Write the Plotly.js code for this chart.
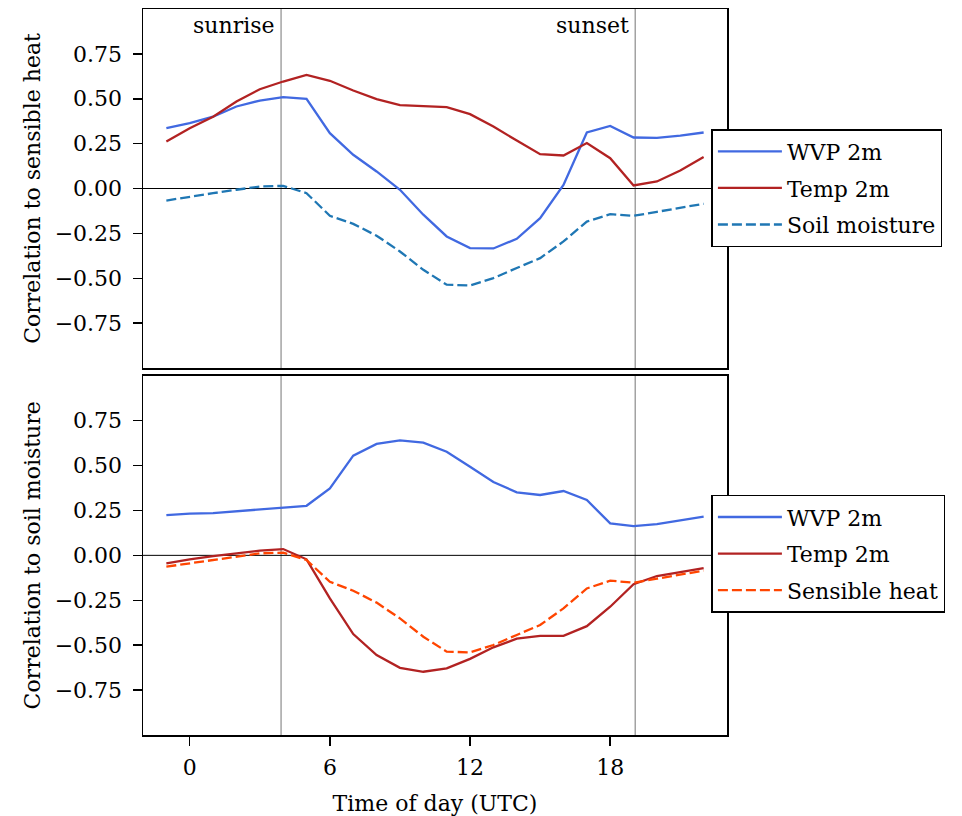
<!DOCTYPE html>
<html>
<head>
<meta charset="utf-8">
<script src="https://cdn.plot.ly/plotly-3.0.1.min.js"></script>
<style>html,body{margin:0;padding:0;background:#fff;}</style>
</head>
<body>
<div id="chart" style="width:962px;height:816px;"></div>
<script>
// ---- data ----
const hours = [-1,0,1,2,3,4,5,6,7,8,9,10,11,12,13,14,15,16,17,18,19,20,21,22];

// Top panel: correlation to sensible heat
const shWVP  = [0.336,0.364,0.40,0.457,0.49,0.509,0.50,0.308,0.188,0.095,-0.007,-0.146,-0.267,-0.332,-0.334,-0.28,-0.165,0.02,0.312,0.349,0.284,0.282,0.295,0.312];
const shTemp = [0.262,0.336,0.40,0.485,0.553,0.596,0.633,0.60,0.546,0.498,0.464,0.457,0.453,0.414,0.345,0.267,0.191,0.184,0.253,0.169,0.017,0.039,0.10,0.175];
const shSoil = [-0.067,-0.045,-0.026,-0.007,0.011,0.015,-0.026,-0.152,-0.197,-0.263,-0.351,-0.453,-0.536,-0.54,-0.499,-0.443,-0.388,-0.295,-0.184,-0.143,-0.152,-0.13,-0.106,-0.085];

// Bottom panel: correlation to soil moisture
const smWVP  = [0.224,0.232,0.235,0.245,0.256,0.262,0.276,0.373,0.555,0.62,0.64,0.627,0.577,0.493,0.408,0.351,0.336,0.358,0.308,0.178,0.163,0.174,0.195,0.215];
const smTemp = [-0.045,-0.022,-0.004,0.011,0.026,0.035,-0.022,-0.24,-0.438,-0.555,-0.626,-0.648,-0.629,-0.576,-0.512,-0.464,-0.448,-0.448,-0.394,-0.286,-0.161,-0.115,-0.093,-0.071];
const smSens = [-0.063,-0.045,-0.026,-0.007,0.011,0.015,-0.026,-0.147,-0.197,-0.263,-0.351,-0.453,-0.536,-0.54,-0.499,-0.443,-0.388,-0.295,-0.184,-0.141,-0.152,-0.13,-0.106,-0.085];

const sunrise = 3.91, sunset = 19.07;
const xTicks = [0,6,12,18];
const yTicks = [-0.75,-0.5,-0.25,0,0.25,0.5,0.75];

// ---- styling ----
const FONT = 'DejaVu Serif';
const FS = 22;
const cBlue = '#4169e1', cRed = '#b22222', cSoil = '#1f77b4', cSens = '#ff4500';
const LW = 2.3;
const DASH = '10px,4px';
const txt = {family: FONT, size: FS, color: '#000'};

const traces = [
  {x: hours, y: shWVP,  name: 'WVP 2m', xaxis: 'x2', yaxis: 'y2', legend: 'legend', legendgroup: 'a1', line: {color: cBlue, width: LW}},
  {x: hours, y: shTemp, name: 'Temp 2m', xaxis: 'x2', yaxis: 'y2', legend: 'legend', legendgroup: 'a2', line: {color: cRed, width: LW}},
  {x: hours, y: shSoil, name: 'Soil moisture', xaxis: 'x2', yaxis: 'y2', legend: 'legend', legendgroup: 'a3', line: {color: cSoil, width: LW, dash: DASH}},
  {x: hours, y: smWVP,  name: 'WVP 2m', xaxis: 'x', yaxis: 'y', legend: 'legend2', legendgroup: 'b1', line: {color: cBlue, width: LW}},
  {x: hours, y: smTemp, name: 'Temp 2m', xaxis: 'x', yaxis: 'y', legend: 'legend2', legendgroup: 'b2', line: {color: cRed, width: LW}},
  {x: hours, y: smSens, name: 'Sensible heat', xaxis: 'x', yaxis: 'y', legend: 'legend2', legendgroup: 'b3', line: {color: cSens, width: LW, dash: DASH}}
].map(t => Object.assign({type: 'scatter', mode: 'lines', hoverinfo: 'skip'}, t));

const yAxisBase = {
  range: [-1, 1], tickvals: yTicks, tickformat: '.2f',
  ticks: 'outside', ticklen: 9, tickwidth: 1.5, tickcolor: '#000',
  showline: true, linewidth: 1.5, linecolor: '#000', mirror: true,
  showgrid: false, zeroline: false, ticklabelstandoff: 6,
  tickfont: txt
};
const xAxisBase = {
  range: [-2, 23], tickvals: xTicks,
  showline: true, linewidth: 1.5, linecolor: '#000', mirror: true,
  showgrid: false, zeroline: false,
  tickfont: txt
};

const legendBase = {
  xanchor: 'left', yanchor: 'top', bgcolor: '#fff',
  bordercolor: '#000', borderwidth: 1.5, tracegroupgap: 5,
  itemwidth: 64,
  font: txt
};

const layout = {
  width: 962, height: 816,
  margin: {l: 143, r: 235, t: 9, b: 81},
  paper_bgcolor: '#fff', plot_bgcolor: '#fff',
  font: txt,
  showlegend: true,
  xaxis: Object.assign({}, xAxisBase, {
    anchor: 'y', ticks: 'outside', ticklen: 9, tickwidth: 1.5, tickcolor: '#000',
    ticklabelstandoff: 3,
    title: {text: 'Time of day (UTC)', font: txt, standoff: 16}
  }),
  xaxis2: Object.assign({}, xAxisBase, {anchor: 'y2', matches: 'x', showticklabels: false, ticks: ''}),
  yaxis: Object.assign({}, yAxisBase, {
    domain: [0, 0.4949], anchor: 'x',
    title: {text: 'Correlation to soil moisture', font: txt, standoff: 8}
  }),
  yaxis2: Object.assign({}, yAxisBase, {
    domain: [0.5055, 1], anchor: 'x2',
    title: {text: 'Correlation to sensible heat', font: txt, standoff: 8}
  }),
  legend: Object.assign({}, legendBase, {x: 0.9733, y: 0.8347}),
  legend2: Object.assign({}, legendBase, {x: 0.9733, y: 0.331}),
  shapes: [
    {type: 'line', xref: 'x2', yref: 'y2 domain', x0: sunrise, x1: sunrise, y0: 0, y1: 1, line: {color: '#8c8c8c', width: 1.2}, layer: 'below'},
    {type: 'line', xref: 'x2', yref: 'y2 domain', x0: sunset, x1: sunset, y0: 0, y1: 1, line: {color: '#8c8c8c', width: 1.2}, layer: 'below'},
    {type: 'line', xref: 'x', yref: 'y domain', x0: sunrise, x1: sunrise, y0: 0, y1: 1, line: {color: '#8c8c8c', width: 1.2}, layer: 'below'},
    {type: 'line', xref: 'x', yref: 'y domain', x0: sunset, x1: sunset, y0: 0, y1: 1, line: {color: '#8c8c8c', width: 1.2}, layer: 'below'},
    {type: 'line', xref: 'x2 domain', yref: 'y2', x0: 0, x1: 1, y0: 0, y1: 0, line: {color: '#000', width: 1}, layer: 'below'},
    {type: 'line', xref: 'x domain', yref: 'y', x0: 0, x1: 1, y0: 0, y1: 0, line: {color: '#000', width: 1}, layer: 'below'}
  ],
  annotations: [
    {text: 'sunrise', xref: 'x2', yref: 'y2 domain', x: sunrise, y: 1, xanchor: 'right', yanchor: 'top', xshift: -4, yshift: -2, showarrow: false, font: txt},
    {text: 'sunset', xref: 'x2', yref: 'y2 domain', x: sunset, y: 1, xanchor: 'right', yanchor: 'top', xshift: -4, yshift: -2, showarrow: false, font: txt}
  ]
};

Plotly.newPlot('chart', traces, layout, {displayModeBar: false, staticPlot: true});
</script>
</body>
</html>
